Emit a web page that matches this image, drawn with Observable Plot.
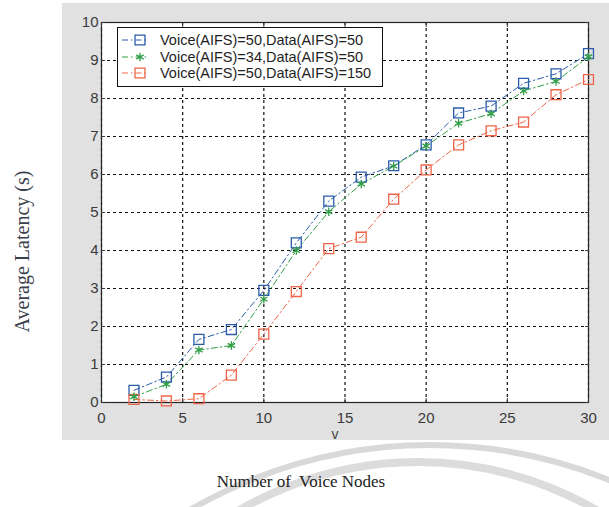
<!DOCTYPE html>
<html>
<head>
<meta charset="utf-8">
<script src="https://cdn.jsdelivr.net/npm/d3@7"></script>
<script src="https://cdn.jsdelivr.net/npm/@observablehq/plot@0.6"></script>
<style>
  body { margin: 0; background: #fff; }
  #fig { position: relative; width: 609px; height: 507px; overflow: hidden; font-family: "Liberation Sans", Arial, sans-serif; }
  #panel { position: absolute; left: 62px; top: 3px; width: 547px; height: 437px; background: #e1e1e1; }
  #chart { position: absolute; left: 0; top: 0; }
  #marks { position: absolute; left: 0; top: 0; }
  #legend { position: absolute; left: 117px; top: 27px; width: 266px; height: 60px; background: #fff; border: 1px solid #111; padding-top: 4px; box-sizing: border-box; }
  .row { display: flex; align-items: center; height: 16.5px; font-size: 14.5px; color: #1e1e1e; white-space: nowrap; }
  .row svg { width: 40px; height: 16px; margin-right: 2px; flex: none; }
  #title { position: absolute; top: 472px; left: 101px; width: 400px; text-align: center; font-family: "Liberation Serif", "DejaVu Serif", serif; font-size: 17px; color: #222; }
</style>
</head>
<body>
<div id="fig">
  <svg id="marks" width="609" height="507">
    <circle cx="430" cy="921" r="476" fill="none" stroke="#d9d9d9" stroke-width="6"></circle>
    <circle cx="418" cy="817" r="355" fill="none" stroke="#dcdcdc" stroke-width="8"></circle>
  </svg>
  <div id="panel"></div>
  <div id="chart"></div>
  <div id="legend"></div>
  <div id="title">Number of&nbsp; Voice Nodes</div>
</div>
<script>
// Number of voice nodes on the x axis
const nodes = [2, 4, 6, 8, 10, 12, 14, 16, 18, 20, 22, 24, 26, 28, 30];

// Average latency (s) for each AIFS configuration
const latencyV50D50 = [0.32, 0.67, 1.66, 1.92, 2.95, 4.2, 5.3, 5.93, 6.23, 6.78, 7.62, 7.8, 8.4, 8.65, 9.18];
const latencyV34D50 = [0.15, 0.48, 1.38, 1.5, 2.72, 4.0, 5.02, 5.75, 6.22, 6.75, 7.35, 7.6, 8.2, 8.45, 9.1];
const latencyV50D150 = [0.08, 0.04, 0.1, 0.72, 1.8, 2.92, 4.05, 4.35, 5.35, 6.12, 6.78, 7.15, 7.38, 8.1, 8.5];

const seriesNames = ["Voice(AIFS)=50,Data(AIFS)=50", "Voice(AIFS)=34,Data(AIFS)=50", "Voice(AIFS)=50,Data(AIFS)=150"];
const seriesColors = ["#2a5caa", "#2f9e45", "#ee6448"];
const seriesSymbols = ["square", "asterisk", "square"];

const xTicks = [0, 5, 10, 15, 20, 25, 30];
const yTicks = [0, 1, 2, 3, 4, 5, 6, 7, 8, 9, 10];
const yLabel = "Average Latency (s)";
const xLabel = "v";

// Long-format table built from the series arrays
const rows = [];
[latencyV50D50, latencyV34D50, latencyV50D150].forEach((vals, i) => {
  nodes.forEach((n, j) => rows.push({ series: seriesNames[i], nodes: n, latency: vals[j] }));
});
const squares = rows.filter(d => d.series !== seriesNames[1]);
const stars = rows.filter(d => d.series === seriesNames[1]);

const dashDot = "6,3,1.5,3";

const chart = Plot.plot({
  width: 609,
  height: 445,
  marginLeft: 101,
  marginRight: 21,
  marginTop: 22,
  marginBottom: 43,
  style: { background: "transparent", fontFamily: "'Liberation Sans', Arial, sans-serif", fontSize: "15px", color: "#3a3a3a" },
  x: { domain: [0, 30] },
  y: { domain: [0, 10] },
  color: { domain: seriesNames, range: seriesColors },
  marks: [
    Plot.frame({ fill: "white" }),
    Plot.gridX(xTicks, { stroke: "#111", strokeOpacity: 1, strokeWidth: 1.2, strokeDasharray: "3,3" }),
    Plot.gridY(yTicks, { stroke: "#111", strokeOpacity: 1, strokeWidth: 1.2, strokeDasharray: "3,3" }),
    Plot.frame({ stroke: "#222", strokeWidth: 1.2 }),
    Plot.axisX(xTicks, { tickSize: -4, tickPadding: 14, label: null }),
    Plot.axisX(xTicks, { anchor: "top", tickSize: -4, fill: "none", label: null }),
    Plot.axisY(yTicks, { tickSize: -4, tickPadding: 7, label: null }),
    Plot.axisY(yTicks, { anchor: "right", tickSize: -4, fill: "none", label: null }),
    // axis titles
    Plot.text([yLabel], { text: d => d, frameAnchor: "left", rotate: -90, textAnchor: "middle", lineAnchor: "middle", dx: -79, dy: 39, fontFamily: "'Liberation Serif', 'DejaVu Serif', serif", fontSize: 20, fill: "#3a404c" }),
    Plot.text([xLabel], { text: d => d, frameAnchor: "bottom", dx: -10, dy: 36, fontSize: 14, fill: "#444" }),
    Plot.line(rows, { x: "nodes", y: "latency", z: "series", stroke: "series", strokeWidth: 1, strokeDasharray: dashDot }),
    Plot.dot(squares, { x: "nodes", y: "latency", stroke: "series", symbol: "square", r: 5.6, strokeWidth: 1.3 }),
    Plot.dot(stars, { x: "nodes", y: "latency", stroke: "series", symbol: "asterisk", r: 4, strokeWidth: 1.3 })
  ]
});
document.getElementById("chart").append(chart);

// Legend: dash-dot line sample with marker, then the series name
const legend = d3.select("#legend");
seriesNames.forEach((name, i) => {
  const row = legend.append("div").attr("class", "row");
  const s = row.append("svg");
  s.append("line").attr("x1", 4).attr("x2", 30).attr("y1", 8).attr("y2", 8)
    .attr("stroke", seriesColors[i]).attr("stroke-width", 1).attr("stroke-dasharray", dashDot);
  const sym = seriesSymbols[i] === "square" ? d3.symbolSquare : d3.symbolAsterisk;
  const size = seriesSymbols[i] === "square" ? Math.PI * 5.6 * 5.6 : Math.PI * 16;
  s.append("path").attr("transform", "translate(22,8)").attr("d", d3.symbol(sym, size)())
    .attr("fill", "none").attr("stroke", seriesColors[i]).attr("stroke-width", 1.3);
  row.append("span").text(name);
});
</script>
</body>
</html>
